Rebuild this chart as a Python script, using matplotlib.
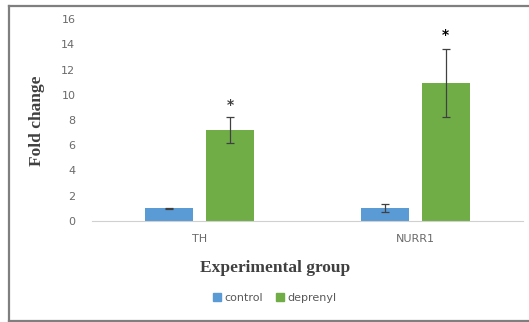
import matplotlib
matplotlib.use("Agg")
import matplotlib.pyplot as plt
import numpy as np
from matplotlib.lines import Line2D
from matplotlib.patches import Patch

categories = ["TH", "NURR1"]
control = [1.0, 1.05]
control_err = [0.05, 0.33]
deprenyl = [7.2, 10.9]
deprenyl_err = [1.05, 2.7]
star_y = [9.2, 14.7]
yticks = [0, 2, 4, 6, 8, 10, 12, 14, 16]

W, H = 529, 322
fig = plt.figure(figsize=(W / 100, H / 100), dpi=100)
fig.patch.set_facecolor("white")

# outer frame (top, left, bottom)
fc = "#7f7f7f"
fig.add_artist(Line2D([8.5 / W, 1.0], [1 - 5.5 / H, 1 - 5.5 / H], color=fc, lw=1.6))
fig.add_artist(Line2D([8.5 / W, 8.5 / W], [1 - 5.5 / H, 1 - 320.5 / H], color=fc, lw=1.6))
fig.add_artist(Line2D([8.5 / W, 1.0], [1 - 320.5 / H, 1 - 320.5 / H], color=fc, lw=1.6))

ax = fig.add_axes([92 / W, 1 - 221 / H, 431 / W, 202 / H])
x = np.arange(len(categories))
bw = 0.223
off = 0.1415
blue = "#5B9BD5"
green = "#70AD47"
ek = dict(ecolor="#404040", elinewidth=0.9, capsize=3, capthick=0.9)
ax.bar(x - off, control, bw, yerr=control_err, color=blue, error_kw=ek, zorder=2)
ax.bar(x + off, deprenyl, bw, yerr=deprenyl_err, color=green, error_kw=ek, zorder=2)
for i in range(len(categories)):
    ax.text(x[i] + off, star_y[i], "*", ha="center", va="center", fontsize=10,
            color="#404040" if i == 0 else "black", fontweight="bold")

ax.set_xlim(-0.5, 1.5)
ax.set_ylim(0, 16)
ax.set_yticks(yticks)
ax.set_xticks(x)
ax.set_xticklabels(categories)
for s in ["top", "right", "left"]:
    ax.spines[s].set_visible(False)
ax.spines["bottom"].set_color("#d0d0d0")
ax.tick_params(axis="both", length=0, labelsize=8, labelcolor="#6a6a6a", pad=12)
ax.tick_params(axis="x", pad=9)

fig.text(37 / W, 1 - 121 / H, "Fold change", rotation=90, ha="center", va="center",
         fontsize=12.5, fontweight="bold", family="Liberation Serif", color="#404040")
fig.text(275 / W, 1 - 268 / H, "Experimental group", ha="center", va="center",
         fontsize=12.5, fontweight="bold", family="Liberation Serif", color="#404040")

handles = [Patch(color=blue, label="control"), Patch(color=green, label="deprenyl")]
leg = fig.legend(handles=handles, loc="center", bbox_to_anchor=(275 / W, 1 - 298 / H),
                 ncol=2, frameon=False, fontsize=8, handlelength=0.7, handleheight=0.7,
                 handletextpad=0.3, columnspacing=1.2)
for t in leg.get_texts():
    t.set_color("#595959")

fig.savefig("out.png", dpi=100)
